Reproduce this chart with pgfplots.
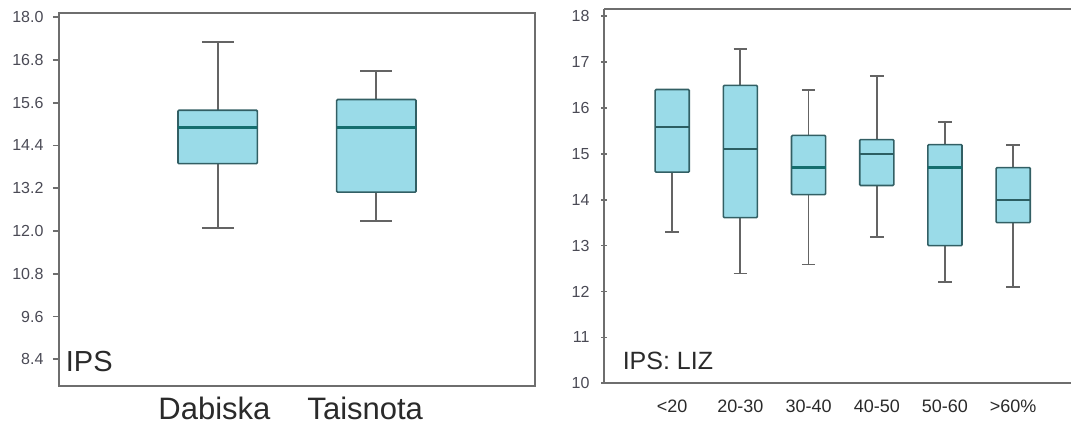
\documentclass[border=0pt]{standalone}
\usepackage{fontspec}
\setmainfont{Liberation Sans}
\usepackage{pgfplots}
\pgfplotsset{compat=1.18}
\usepgfplotslibrary{statistics}

\definecolor{boxfill}{HTML}{9ADBE8}
\definecolor{boxedge}{HTML}{325F64}
\definecolor{medteal}{HTML}{146E6E}
\definecolor{meddark}{HTML}{2C5E62}
\definecolor{whiskergray}{HTML}{646464}
\definecolor{axisgray}{HTML}{6E6E6E}
\definecolor{ticktext}{HTML}{4A4A55}
\definecolor{labeltext}{HTML}{2A2A2A}

\pgfplotsset{
  panel/.style={
    scale only axis,
    anchor=south west,
    clip=false,
    axis line style={draw=axisgray, line width=2.2pt},
    tick align=outside,
    ytick pos=left,
    major tick length=6pt,
    y tick style={draw=axisgray, line width=1.6pt},
    x tick style={draw=none},
    /pgf/number format/assume math mode=true,
    y tick label style={font=\fontsize{16}{16}\selectfont, text=ticktext},
    x tick label style={text=labeltext},
    boxplot/draw direction=y,
    boxplot/box extend=0.5,
    boxplot/whisker extend=0.2,
    boxplot/every box/.style={draw=boxedge, fill=boxfill, line width=1.6pt, rounded corners=1pt},
    boxplot/every whisker/.style={draw=whiskergray, line width=1.8pt},
  },
  ipsbox/.style={solid, line width=1.6pt, mark=none},
}

\begin{document}
\begin{tikzpicture}
\path (0,0) rectangle (1073pt,425pt);

% IPS by group
\begin{axis}[panel,
  at={(59pt,39pt)}, width=476pt, height=372.7pt,
  xmin=0, xmax=3, ymin=7.65, ymax=18.11,
  ytick={8.4,9.6,10.8,12.0,13.2,14.4,15.6,16.8,18.0},
  yticklabel style={xshift=-6pt, /pgf/number format/.cd, fixed, fixed zerofill, precision=1},
  xtick={0.98,1.93}, xticklabels={Dabiska,Taisnota},
  x tick label style={font=\fontsize{31}{31}\selectfont, yshift=-2pt},
  boxplot/every median/.style={draw=medteal, line width=2.6pt},
]
\addplot[ipsbox, boxplot prepared={lower whisker=12.09, lower quartile=13.89, median=14.90, upper quartile=15.39, upper whisker=17.30, draw position=1}] coordinates {};
\addplot[ipsbox, boxplot prepared={lower whisker=12.29, lower quartile=13.09, median=14.90, upper quartile=15.69, upper whisker=16.48, draw position=2}] coordinates {};
\node[anchor=base west, font=\fontsize{29}{29}\selectfont, text=labeltext, inner sep=0pt]
  at (rel axis cs:0.014,0.039) {IPS};
\end{axis}

% IPS by LIZ class; the frame is open on the right
\begin{axis}[panel,
  at={(604pt,41.7pt)}, width=467pt, height=374.4pt,
  axis x line=box, axis y line=left,
  y axis line style={-},
  xmin=0, xmax=6.848, ymin=10, ymax=18.157,
  ytick={10,11,...,18},
  yticklabel style={xshift=-8pt},
  xtick={1,2,3,4,5,6},
  xticklabels={<20,20-30,30-40,40-50,50-60,>60\%},
  x tick label style={font=\fontsize{18}{18}\selectfont, yshift=-7pt},
  boxplot/every median/.style={draw=meddark, line width=2pt},
]
\addplot[ipsbox, boxplot prepared={lower whisker=13.29, lower quartile=14.60, median=15.59, upper quartile=16.40, upper whisker=16.40, draw position=1}] coordinates {};
\addplot[ipsbox, boxplot prepared={lower whisker=12.39, lower quartile=13.61, median=15.10, upper quartile=16.49, upper whisker=17.29, draw position=2}] coordinates {};
\addplot[ipsbox, boxplot prepared={lower whisker=12.59, lower quartile=14.11, median=14.70, upper quartile=15.40, upper whisker=16.39, draw position=3},
  boxplot/every median/.style={draw=medteal, line width=2.2pt}] coordinates {};
\addplot[ipsbox, boxplot prepared={lower whisker=13.19, lower quartile=14.31, median=14.99, upper quartile=15.31, upper whisker=16.70, draw position=4}] coordinates {};
\addplot[ipsbox, boxplot prepared={lower whisker=12.20, lower quartile=13.00, median=14.70, upper quartile=15.20, upper whisker=15.70, draw position=5},
  boxplot/every median/.style={draw=medteal, line width=2.2pt}] coordinates {};
\addplot[ipsbox, boxplot prepared={lower whisker=12.09, lower quartile=13.50, median=13.99, upper quartile=14.70, upper whisker=15.20, draw position=6}] coordinates {};
\node[anchor=base west, font=\fontsize{25}{25}\selectfont, text=labeltext, inner sep=0pt]
  at (rel axis cs:0.0398,0.0376) {IPS: LIZ};
\end{axis}
\end{tikzpicture}
\end{document}
